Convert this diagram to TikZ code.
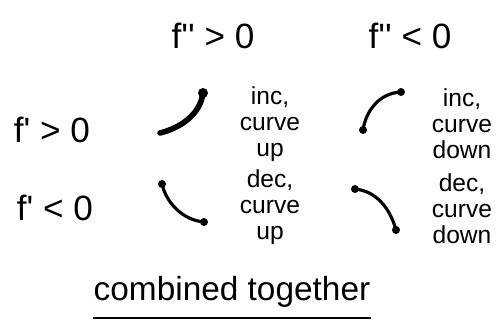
\documentclass[tikz,border=0pt]{standalone}
\usepackage{fontspec}
\setmainfont{Liberation Sans}
\begin{document}
\begin{tikzpicture}[x=0.02cm,y=-0.02cm,
  lbl/.style={font=\fontsize{14}{14.8}\selectfont, align=center, inner sep=0pt},
  head/.style={font=\fontsize{20}{22}\selectfont, inner sep=0pt},
  crv/.style={line width=1.8pt, line cap=round},
  blob/.style={circle, fill=black, inner sep=0pt, minimum size=0.16cm}]
\useasboundingbox (0,0) rectangle (502,324);
% headers
\node[head] (h1) at (213,36) {f\textquotesingle\textquotesingle\ > 0};
\node[head] (h2) at (410,36) {f\textquotesingle\textquotesingle\ < 0};
\node[head] (r1) at (52,130) {f\textquotesingle\ > 0};
\node[head] (r2) at (55,208) {f\textquotesingle\ < 0};
% curve 1: inc, curve up
\node[blob, minimum size=0.2cm] (a2) at (203,93) {};
\coordinate (a1) at (160,133);
\draw[line width=3.2pt, line cap=round] (a1) .. controls (180,128) and (200,115) .. (a2.center);
% curve 2: inc, curve down
\node[blob] (b1) at (363,130) {};
\node[blob] (b2) at (401,92) {};
\draw[crv] (b1.center) .. controls (366,110) and (380,93) .. (b2.center);
% curve 3: dec, curve up
\node[blob] (c1) at (162,184) {};
\node[blob] (c2) at (204,222) {};
\draw[crv] (c1.center) .. controls (166,202) and (182,220) .. (c2.center);
% curve 4: dec, curve down
\node[blob] (d1) at (355,189) {};
\node[blob] (d2) at (396,230) {};
\draw[crv] (d1.center) .. controls (376,191) and (390,208) .. (d2.center);
% labels
\node[lbl] (t1) at (270,124) {inc,\\curve\\up};
\node[lbl] (t2) at (462,124) {inc,\\curve\\down};
\node[lbl] (t3) at (270,207) {dec,\\curve\\up};
\node[lbl] (t4) at (462,209) {dec,\\curve\\down};
% caption
\node[font=\fontsize{19}{21}\selectfont, inner sep=0pt] (cap) at (232,292) {combined together};
\draw[line width=1.2pt] (cap.south west) ++(0,10) coordinate (u1) -- (cap.south east |- u1);
\end{tikzpicture}
\end{document}
